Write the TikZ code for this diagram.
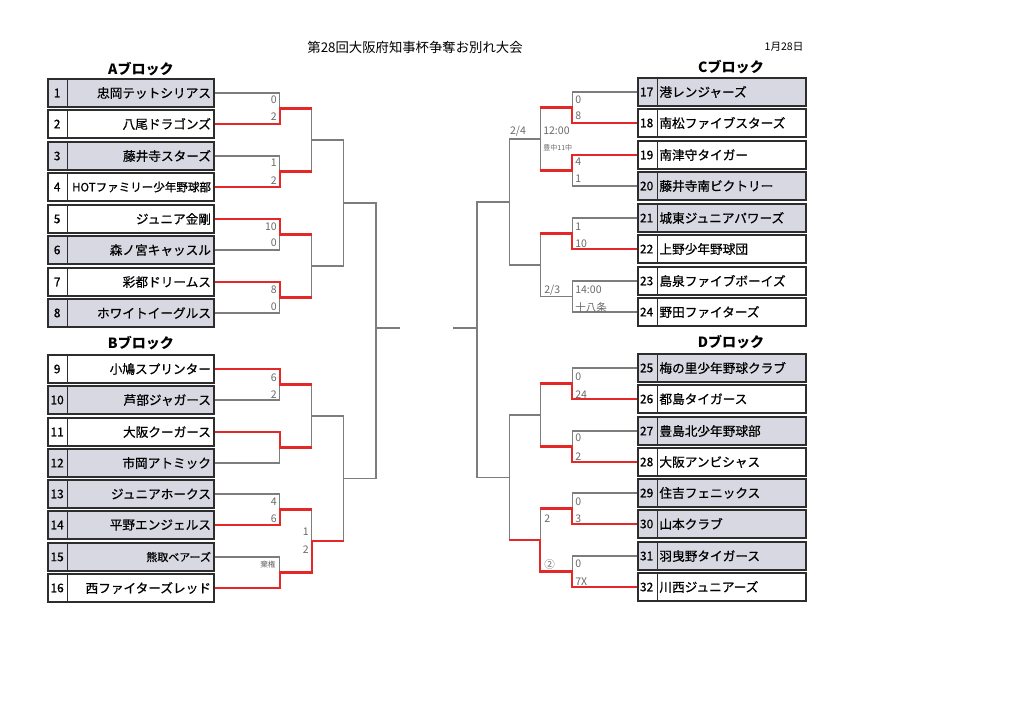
\documentclass[tikz,border=0pt]{standalone}
\usepackage{fontspec}
\setmainfont{Noto Sans CJK JP}
\newfontfamily\teamfont{Noto Sans CJK JP}[FakeBold=0.7]
\usetikzlibrary{calc}

\definecolor{shade}{RGB}{216,216,226}
\definecolor{boxline}{RGB}{45,45,45}
\definecolor{wire}{RGB}{125,125,125}
\definecolor{win}{RGB}{228,40,40}
\definecolor{scoregray}{RGB}{105,105,105}

\tikzset{
  box/.style={draw=boxline, line width=1.2pt, minimum height=0.7cm, inner sep=0pt,
    path picture={\draw[boxline, line width=0.7pt] ([xshift=#1]path picture bounding box.north west) -- ([xshift=#1]path picture bounding box.south west);}},
  lbox/.style={box=0.5cm, minimum width=4.15cm},
  rbox/.style={box=0.475cm, minimum width=4.2cm},
  num/.style={font=\teamfont\fontsize{8.5}{9}\selectfont, inner sep=0pt},
  tname/.style={font=\teamfont\fontsize{9}{10}\selectfont, inner sep=0pt},
  head/.style={font=\fontsize{10}{11}\selectfont\bfseries},
  wire/.style={draw=wire, line width=0.75pt},
  win/.style={draw=win, line width=1.7pt},
  lsc/.style={anchor=east, inner sep=0pt, text=scoregray, font=\fontsize{7.5}{8}\selectfont},
  rsc/.style={anchor=west, inner sep=0pt, text=scoregray, font=\fontsize{7.5}{8}\selectfont},
}

\begin{document}
\begin{tikzpicture}[x=0.025cm, y=-0.025cm]
\useasboundingbox (0,0) rectangle (1024,725);

% title
\node[font=\fontsize{9.5}{10}\selectfont] (ttl) at (415,47) {第28回大阪府知事杯争奪お別れ大会};
\node[font=\fontsize{7.5}{8}\selectfont] (date) at (784,47) {1月28日};

% block headers
\node[head] (ha) at (141,69) {Aブロック};
\node[head] (hb) at (141,343) {Bブロック};
\node[head] (hc) at (731,67) {Cブロック};
\node[head] (hd) at (731,342) {Dブロック};

% left teams
\foreach \n/\y/\f/\s in {1/93/shade/忠岡テットシリアス, 2/124/white/八尾ドラゴンズ,
    3/156/shade/藤井寺スターズ, 4/187/white/{\fontsize{8.2}{9}\selectfont HOTファミリー少年野球部},
    5/219/white/ジュニア金剛, 6/250/shade/森ノ宮キャッスル, 7/282/white/彩都ドリームス,
    8/313/shade/ホワイトイーグルス, 9/369/white/小鳩スプリンター, 10/400/shade/芦部ジャガース,
    11/432/white/大阪クーガース, 12/463/shade/市岡アトミック, 13/494/shade/ジュニアホークス,
    14/525/shade/平野エンジェルス, 15/557/shade/{\fontsize{7.8}{9}\selectfont 熊取ベアーズ},
    16/588/white/西ファイターズレッド} {
  \node[lbox, fill=\f] (t\n) at (131,\y) {};
  \node[num] (n\n) at ([xshift=0.25cm]t\n.west) {\n};
  \node[tname, anchor=east] (s\n) at ([xshift=-0.09cm]t\n.east) {\s};
}

% right teams
\foreach \n/\y/\f/\s in {17/92/shade/港レンジャーズ, 18/123/white/南松ファイブスターズ,
    19/155/white/南津守タイガー, 20/186/shade/藤井寺南ビクトリー, 21/218/shade/城東ジュニアパワーズ,
    22/249/white/上野少年野球団, 23/281/white/島泉ファイブボーイズ, 24/312/white/野田ファイターズ,
    25/368/shade/梅の里少年野球クラブ, 26/399/white/都島タイガース, 27/431/shade/豊島北少年野球部,
    28/462/white/大阪アンビシャス, 29/493/shade/住吉フェニックス, 30/524/shade/山本クラブ,
    31/556/shade/羽曳野タイガース, 32/587/white/川西ジュニアーズ} {
  \node[rbox, fill=\f] (t\n) at (722,\y) {};
  \node[num] (n\n) at ([xshift=0.2375cm]t\n.west) {\n};
  \node[tname, anchor=west] (s\n) at ([xshift=0.55cm]t\n.west) {\s};
}

% bracket points
\foreach \i in {1,...,8} {
  \pgfmathtruncatemacro\a{2*\i-1} \pgfmathtruncatemacro\b{2*\i}
  \coordinate (q\i) at ($(t\a.east)!.5!(t\b.east)+(65,0)$);
}
\foreach \i in {9,...,16} {
  \pgfmathtruncatemacro\a{2*\i-1} \pgfmathtruncatemacro\b{2*\i}
  \coordinate (q\i) at ($(t\a.west)!.5!(t\b.west)+(-65,0)$);
}
\foreach \i in {1,...,4} {
  \pgfmathtruncatemacro\a{2*\i-1} \pgfmathtruncatemacro\b{2*\i}
  \coordinate (h\i) at ($(q\a)!.5!(q\b)+(32,0)$);
}
\foreach \i in {5,...,8} {
  \pgfmathtruncatemacro\a{2*\i-1} \pgfmathtruncatemacro\b{2*\i}
  \coordinate (h\i) at ($(q\a)!.5!(q\b)+(-32,0)$);
}
\coordinate (s1) at ($(h1)!.5!(h2)+(32,0)$);
\coordinate (s2) at ($(h3)!.5!(h4)+(32,0)$);
\coordinate (s3) at ($(h5)!.5!(h6)+(-31,0)$);
\coordinate (s4) at ($(h7)!.5!(h8)+(-31,0)$);
\coordinate (f1) at (376,328);
\coordinate (e1) at (400,328);
\coordinate (f2) at (477,328);
\coordinate (e2) at (453,328);

% gray bracket
\foreach \i in {1,...,16} {
  \pgfmathtruncatemacro\j{(\i+1)/2}
  \draw[wire] (t\i.east) -| (q\j);
}
\foreach \i in {17,...,32} {
  \pgfmathtruncatemacro\j{(\i+1)/2}
  \draw[wire] (t\i.west) -| (q\j);
}
\foreach \i in {1,...,16} {
  \pgfmathtruncatemacro\j{(\i+1)/2}
  \draw[wire] (q\i) -| (h\j);
}
\foreach \i in {1,...,8} {
  \pgfmathtruncatemacro\j{(\i+1)/2}
  \draw[wire] (h\i) -| (s\j);
}
\draw[wire] (s1) -| (f1);
\draw[wire] (s2) -| (f1);
\draw[wire] (f1) -- (e1);
\draw[wire] (s3) -| (f2);
\draw[wire] (s4) -| (f2);
\draw[wire] (f2) -- (e2);

% winners
\foreach \t/\q/\h in {2/1/1, 4/2/1, 5/3/2, 7/4/2, 9/5/3, 11/6/3, 14/7/4} {
  \draw[win] (t\t.east) -| (q\q) -- (q\q -| h\h);
}
\draw[win] (t16.east) -| (q8) -| (h4) -- (h4 -| s2);
\foreach \t/\q/\h in {18/9/5, 19/10/5, 22/11/6, 26/13/7, 28/14/7, 30/15/8} {
  \draw[win] (t\t.west) -| (q\q) -- (q\q -| h\h);
}
\draw[win] (t32.west) -| (q16) -| (h8) -- (h8 -| s4);

% scores
\foreach \y/\s in {100/0, 117/2, 163/1, 181/2, 227/10, 243/0, 290/8, 307/0,
    378/6, 395/2, 502/4, 519/6} {
  \node[lsc] (sl\y) at (277,\y) {\s};
}
\node[lsc, font=\fontsize{5.5}{6}\selectfont] (sl565) at (276,565) {棄権};
\node[lsc] (sl532) at (309,532) {1};
\node[lsc] (sl550) at (309,550) {2};

\foreach \y/\s in {100/0, 116/8, 162/4, 179/1, 227/1, 244/10, 377/0, 395/24,
    438/0, 457/2, 502/0, 519/3, 564/0, 582/7X, 290/14:00} {
  \node[rsc] (sr\y) at (575,\y) {\s};
}
\node[rsc] (sr307) at (575,307) {十八条};
\node[anchor=center, inner sep=0pt, text=scoregray, font=\fontsize{7.5}{8}\selectfont] (d24) at (518,131) {2/4};
\node[rsc] (tm1) at (543,131) {12:00};
\node[rsc, font=\fontsize{5}{6}\selectfont] (pl1) at (543,148) {豊中11中};
\node[rsc] (d23) at (544,290) {2/3};
\node[rsc] (w519) at (544,519) {2};
\node[rsc] (w564) at (544,564) {②};
\end{tikzpicture}
\end{document}
